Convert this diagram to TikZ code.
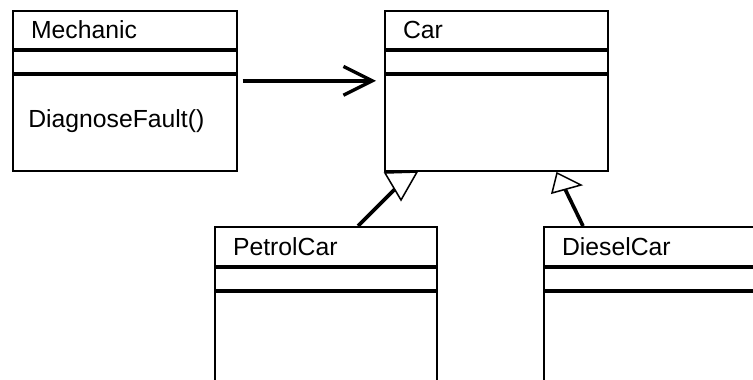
\documentclass[tikz,border=0pt]{standalone}
\usepackage{fontspec}
\setmainfont{Liberation Sans}
\usetikzlibrary{arrows.meta}

\tikzset{
  classbox/.style={draw, line width=1.2pt, rectangle, inner sep=0pt, anchor=north west},
  classtext/.style={anchor=base west, inner sep=0pt},
  divider/.style={line width=2.2pt},
  assoc/.style={line width=2.4pt, -{Straight Barb[length=0.72cm, width=0.72cm]}},
  generalise/.style={line width=2.6pt},
  hollowtip/.style={draw, fill=white, line width=1.1pt, line join=miter}
}

\begin{document}
\begin{tikzpicture}[font=\fontsize{17.6}{20}\selectfont]
        \useasboundingbox (0,0) rectangle (18.825,-9.5);
        \clip (0,0) rectangle (18.825,-9.5);
        % class boxes
        \node[classbox, minimum width=5.6cm, minimum height=4cm] (mechanic) at (0.3,-0.25) {};
        \node[classbox, minimum width=5.575cm, minimum height=4cm] (car) at (9.6,-0.25) {};
        \node[classbox, minimum width=5.55cm, minimum height=4.6cm] (petrol) at (5.35,-5.65) {};
        \node[classbox, minimum width=5.575cm, minimum height=4.6cm] (diesel) at (13.575,-5.65) {};
        % compartments
        \foreach \cls/\first/\second in {mechanic/1.0/1.6, car/1.0/1.6, petrol/1.025/1.625, diesel/1.025/1.625} {
          \draw[divider] ([yshift=-\first cm]\cls.north west) -- ([yshift=-\first cm]\cls.north east);
          \draw[divider] ([yshift=-\second cm]\cls.north west) -- ([yshift=-\second cm]\cls.north east);
        }
        % names and operations
        \node[classtext] (mechanicname) at ([shift={(0.47,-0.71)}]mechanic.north west) {Mechanic};
        \node[classtext] (carname) at ([shift={(0.47,-0.71)}]car.north west) {Car};
        \node[classtext] (petrolname) at ([shift={(0.47,-0.74)}]petrol.north west) {PetrolCar};
        \node[classtext] (dieselname) at ([shift={(0.47,-0.74)}]diesel.north west) {DieselCar};
        \node[classtext] (diagnose) at ([shift={(0.4,-2.94)}]mechanic.north west) {DiagnoseFault()};
        % association
        \draw[assoc, shorten <=0.125cm, shorten >=0.2cm] ([yshift=0.25cm]mechanic.east) -- ([yshift=0.25cm]car.west);
        % generalisations
        \coordinate (petrolhead) at (9.875,-4.725);
        \coordinate (dieselhead) at (14.125,-4.725);
        \draw[generalise] ([xshift=3.6cm]petrol.north west) -- (petrolhead);
        \draw[generalise] ([xshift=1.0cm]diesel.north west) -- (dieselhead);
        \draw[hollowtip] (9.625,-4.325) -- (10.425,-4.3) -- (10.025,-5.0) -- cycle;
        \draw[hollowtip] (13.925,-4.325) -- (14.525,-4.625) -- (13.8,-4.825) -- cycle;
      \end{tikzpicture}
\end{document}
